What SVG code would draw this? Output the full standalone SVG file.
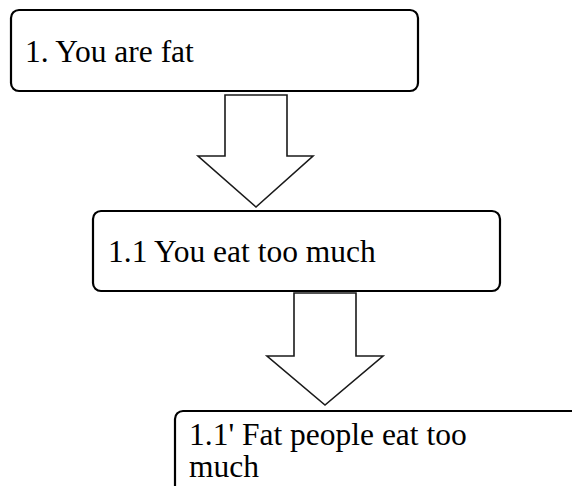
<svg xmlns="http://www.w3.org/2000/svg" width="572" height="486" viewBox="0 0 572 486">
<style>
.box{fill:#fff;stroke:#000;stroke-width:2.2}
.arr{fill:#fff;stroke:#1a1a1a;stroke-width:1.6;stroke-linejoin:miter}
.t{font-family:"Liberation Serif","Times New Roman",serif;font-size:31.5px;fill:#000}
</style>
<rect width="572" height="486" fill="#fff"/>
<g id="connectors">
<polygon class="arr" points="225,95 287,95 287,156 313,156 256,207 198,156 225,156"/>
<polygon class="arr" points="294,293 356,293 356,356 383,356 325,405 267,356 294,356"/>
</g>
<g id="node1">
<rect class="box" x="11" y="10" width="407" height="81" rx="8"/>
<text class="t" x="25" y="62">1. You are fat</text>
</g>
<g id="node2">
<rect class="box" x="93" y="211" width="407" height="80" rx="8"/>
<text class="t" x="108" y="262">1.1 You eat too much</text>
</g>
<g id="node3">
<rect class="box" x="175" y="411" width="420" height="100" rx="8"/>
<text class="t" x="189" y="445">1.1' Fat people eat too</text>
<text class="t" x="189" y="477">much</text>
</g>
</svg>
